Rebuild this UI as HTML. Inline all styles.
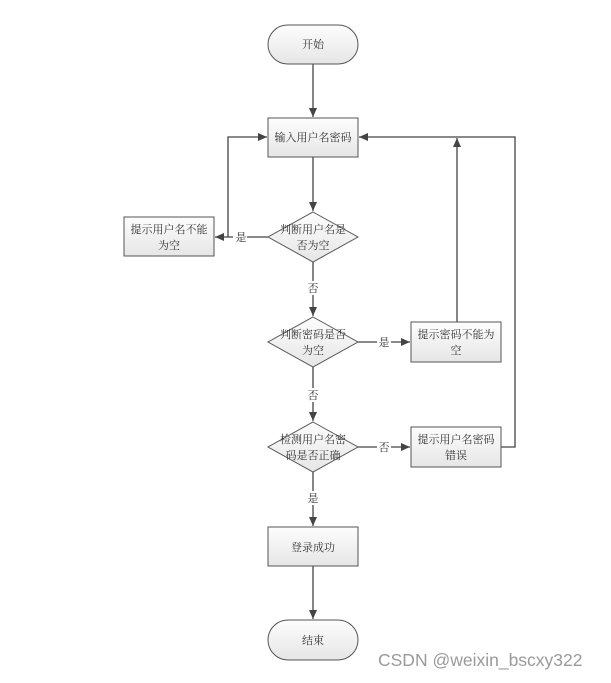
<!DOCTYPE html>
<html><head><meta charset="utf-8"><style>
html,body{margin:0;padding:0;background:#fff;}
svg text{font-family:"Liberation Serif","Noto Serif CJK SC","Noto Sans CJK SC",serif;font-size:11px;fill:#333;}
</style></head><body>
<svg width="611" height="678" viewBox="0 0 611 678" xmlns="http://www.w3.org/2000/svg">
<defs>
<linearGradient id="g" x1="0" y1="0" x2="0" y2="1"><stop offset="0" stop-color="#fdfdfd"/><stop offset="1" stop-color="#e6e6e6"/></linearGradient>
<marker id="a" markerWidth="10" markerHeight="10" refX="9" refY="5" orient="auto" markerUnits="userSpaceOnUse"><path d="M0,1 L9,5 L0,9 z" fill="#444"/></marker>
</defs>
<g stroke="#444" stroke-width="1.3" fill="none">
<line x1="313" y1="64" x2="313" y2="117" marker-end="url(#a)"/>
<line x1="313" y1="157" x2="313" y2="211" marker-end="url(#a)"/>
<line x1="268" y1="237" x2="215" y2="237" marker-end="url(#a)"/>
<polyline points="228,237 228,137 267,137" marker-end="url(#a)"/>
<line x1="313" y1="262" x2="313" y2="316" marker-end="url(#a)"/>
<line x1="358" y1="342" x2="410" y2="342" marker-end="url(#a)"/>
<line x1="457" y1="322" x2="457" y2="138" marker-end="url(#a)"/>
<line x1="313" y1="367" x2="313" y2="421" marker-end="url(#a)"/>
<line x1="358" y1="447" x2="410" y2="447" marker-end="url(#a)"/>
<polyline points="501,447 515,447 515,137 359,137" marker-end="url(#a)"/>
<line x1="313" y1="472" x2="313" y2="526" marker-end="url(#a)"/>
<line x1="313" y1="566" x2="313" y2="619" marker-end="url(#a)"/>
</g>
<g stroke="#555" stroke-width="1" fill="url(#g)">
<rect x="268" y="25" width="90" height="39" rx="19.5"/>
<rect x="268" y="118" width="90" height="39"/>
<polygon points="313,212 358,237 313,262 268,237"/>
<rect x="124" y="217" width="90" height="39"/>
<polygon points="313,317 358,342 313,367 268,342"/>
<rect x="411" y="322" width="90" height="40"/>
<polygon points="313,422 358,447 313,472 268,447"/>
<rect x="411" y="427" width="90" height="40"/>
<rect x="268" y="527" width="90" height="39"/>
<rect x="268" y="620" width="90" height="40" rx="20"/>
</g>
<g fill="#fff">
<rect x="233" y="230" width="14" height="14"/>
<rect x="306" y="281" width="14" height="14"/>
<rect x="377" y="335" width="14" height="14"/>
<rect x="306" y="388" width="14" height="14"/>
<rect x="377" y="440" width="14" height="14"/>
<rect x="306" y="491" width="14" height="14"/>
</g>
<g text-anchor="middle">
<text x="313" y="48">开始</text>
<text x="313" y="141">输入用户名密码</text>
<text x="313" y="233">判断用户名是</text><text x="313" y="249">否为空</text>
<text x="169" y="233">提示用户名不能</text><text x="169" y="249">为空</text>
<text x="313" y="338">判断密码是否</text><text x="313" y="354">为空</text>
<text x="456" y="338">提示密码不能为</text><text x="456" y="354">空</text>
<text x="313" y="443">检测用户名密</text><text x="313" y="459">码是否正确</text>
<text x="456" y="443">提示用户名密码</text><text x="456" y="459">错误</text>
<text x="313" y="551">登录成功</text>
<text x="313" y="644">结束</text>
<text x="241" y="241">是</text>
<text x="313" y="292">否</text>
<text x="384" y="346">是</text>
<text x="313" y="399">否</text>
<text x="384" y="451">否</text>
<text x="313" y="502">是</text>
</g>
<text x="378" y="666" style="font-family:'Liberation Sans',sans-serif;font-size:17.5px;fill:#9a9a9a">CSDN @weixin_bscxy322</text>
</svg>
</body></html>
